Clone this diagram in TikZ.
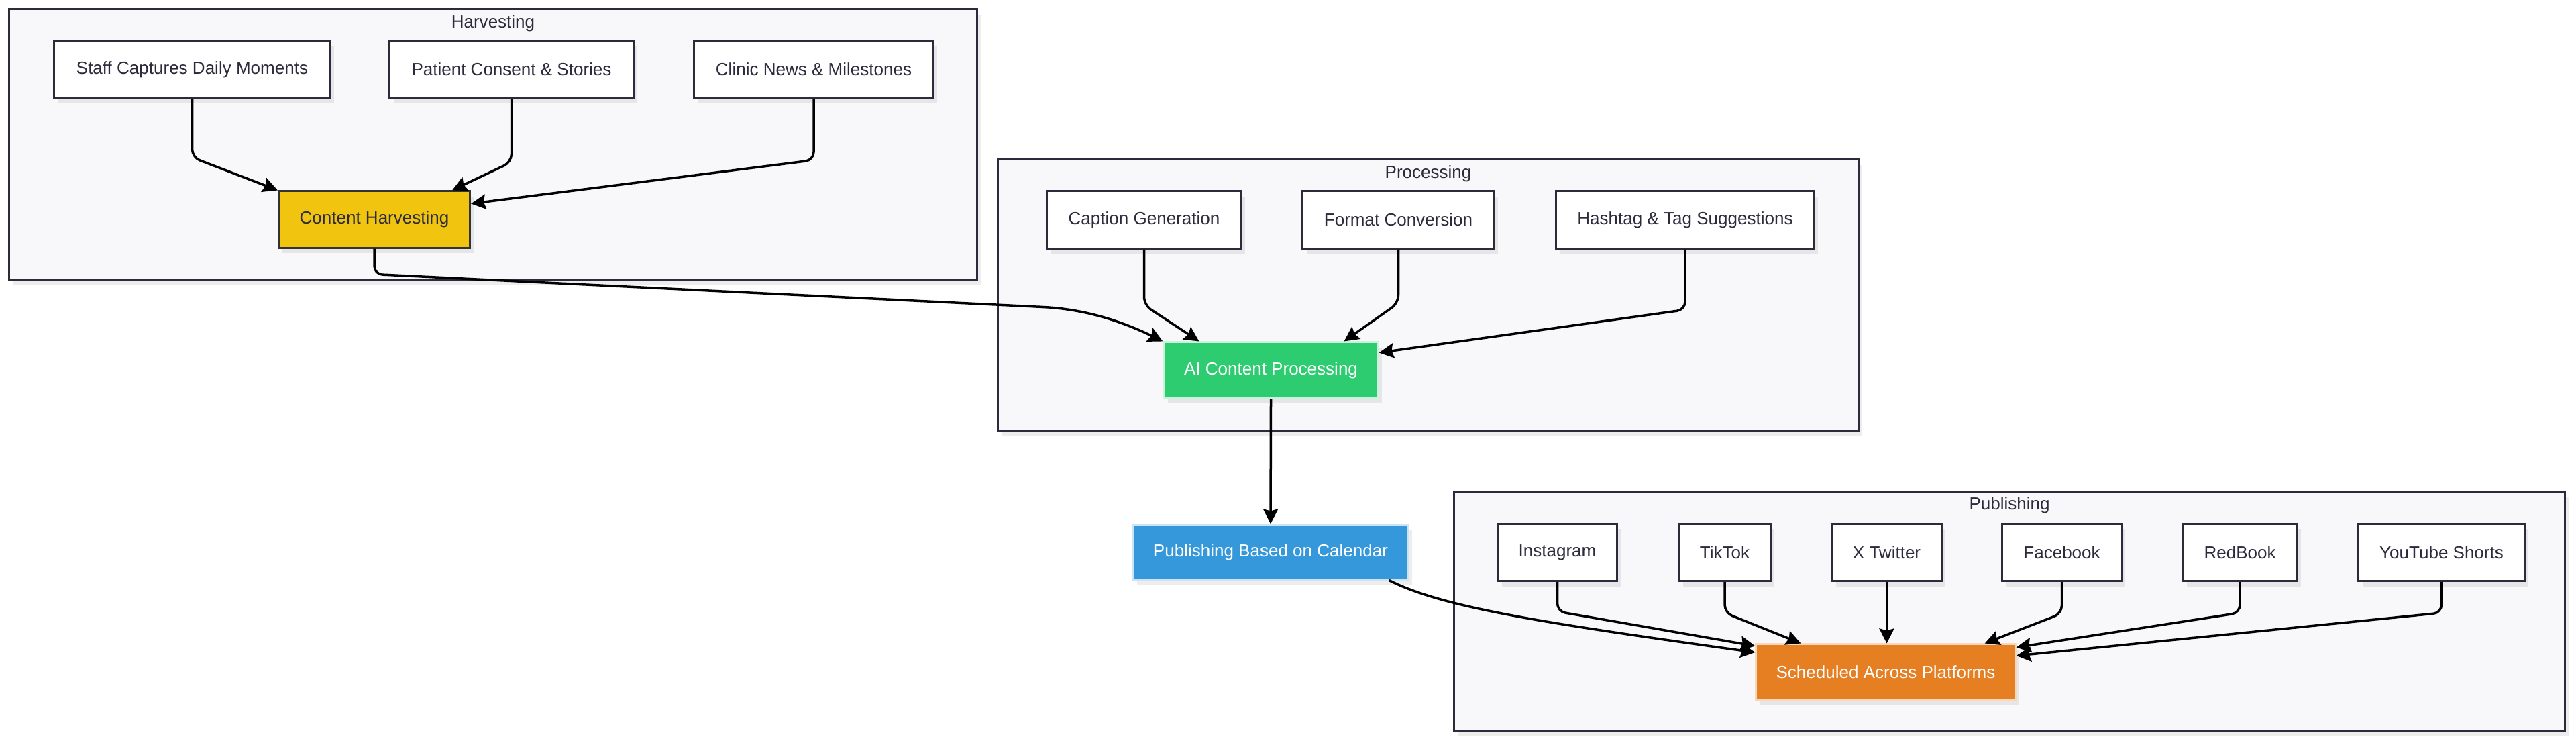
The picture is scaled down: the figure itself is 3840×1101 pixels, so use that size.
\documentclass[tikz,border=0pt]{standalone}
\usepackage{fontspec}
\setmainfont{Liberation Sans}
\usetikzlibrary{arrows.meta,calc,shadows}
\definecolor{ink}{HTML}{2B2B3C}
\definecolor{lanebg}{HTML}{F8F8FA}
\definecolor{harvyellow}{HTML}{F1C40F}
\definecolor{aigreen}{HTML}{2ECC71}
\definecolor{calblue}{HTML}{3498DB}
\definecolor{schedorange}{HTML}{E67E22}

\begin{document}
\begin{tikzpicture}[x=0.01cm, y=-0.01cm,
  font=\fontsize{7.4}{9}\selectfont,
  dropshade/.style={drop shadow={shadow xshift=0.06cm, shadow yshift=-0.08cm,
    fill=black, opacity=0.07}},
  lane/.style={draw=ink, fill=lanebg, line width=0.03cm, dropshade, inner sep=0pt},
  box/.style={draw=ink, fill=white, text=ink, line width=0.03cm, dropshade,
    inner sep=0pt, minimum height=0.85cm},
  flow/.style={line width=0.035cm, rounded corners=0.12cm,
    -{Stealth[length=0.22cm, width=0.22cm, inset=0.03cm]}}]
  \useasboundingbox (0,0) rectangle (3840,1101);

  % Groups
  \node [lane, minimum width=14.42cm, minimum height=4.02cm] (harvesting) at (735,215) {};
  \node [text=ink] (harvtitle) at (735,35) {Harvesting};
  \node [lane, minimum width=12.82cm, minimum height=4.03cm] (processing) at (2129,439.5) {};
  \node [text=ink] (proctitle) at (2129,259) {Processing};
  \node [lane, minimum width=16.55cm, minimum height=3.56cm] (publishing) at (2995.5,911) {};
  \node [text=ink] (pubtitle) at (2995.5,753) {Publishing};

  % Harvesting
  \node [box, minimum width=4.11cm] (staff) at (286.5,103.5) {Staff Captures Daily Moments};
  \node [box, minimum width=3.63cm] (patient) at (762.5,103.5) {Patient Consent \& Stories};
  \node [box, minimum width=3.56cm] (clinic) at (1213,103.5) {Clinic News \& Milestones};
  \node [box, fill=harvyellow, draw=black!80, minimum width=2.85cm, minimum height=0.84cm]
        (content) at (558,327) {Content Harvesting};

  % Processing
  \node [box, minimum width=2.89cm] (caption) at (1705.5,327.5) {Caption Generation};
  \node [box, minimum width=2.85cm] (format) at (2084.5,327.5) {Format Conversion};
  \node [box, minimum width=3.84cm] (hashtag) at (2512,327.5) {Hashtag \& Tag Suggestions};
  \node [box, fill=aigreen, draw=aigreen!25!white, text=white, minimum width=3.19cm,
        minimum height=0.83cm] (aiproc) at (1894.5,551.5) {AI Content Processing};

  % Calendar
  \node [box, fill=calblue, draw=calblue!25!white, text=white, minimum width=4.10cm,
        minimum height=0.81cm] (calendar) at (1894,822.5) {Publishing Based on Calendar};

  % Publishing
  \node [box, minimum width=1.77cm] (instagram) at (2321.5,823) {Instagram};
  \node [box, minimum width=1.36cm] (tiktok) at (2571,823) {TikTok};
  \node [box, minimum width=1.63cm] (xtwitter) at (2812.5,823) {X Twitter};
  \node [box, minimum width=1.77cm] (facebook) at (3073.5,823) {Facebook};
  \node [box, minimum width=1.70cm] (redbook) at (3339,823) {RedBook};
  \node [box, minimum width=2.47cm] (youtube) at (3639.5,823) {YouTube Shorts};
  \node [box, fill=schedorange, draw=schedorange!30!white, text=white, minimum width=3.86cm,
        minimum height=0.82cm] (sched) at (2811,1001) {Scheduled Across Platforms};

  % Harvesting edges
  \draw [flow] (staff.south) -- ++(0,87) -- (content.north west);
  \draw [flow] (patient.south) -- ++(0,94) -- ($(content.north east)+(-28,0)$);
  \draw [flow] (clinic.south) -- ++(0,91) -- ($(content.north east)+(0,20)$);

  % Into processing
  \coordinate (crossbend) at (1545,457);
  \draw [flow] (content.south) -- ++(0,38) -- (crossbend)
        .. controls (1620,461) and (1675,480) .. (aiproc.north west);
  \draw [flow] (caption.south) -- ++(0,83) -- ($(aiproc.north west)+(54,0)$);
  \draw [flow] (format.south) -- ++(0,80) -- ($(aiproc.north east)+(-52,0)$);
  \draw [flow] (hashtag.south) -- ++(0,90) -- ($(aiproc.north east)+(0,17)$);
  \draw [flow] (aiproc.south) -- (calendar.north);

  % Publishing edges
  \draw [flow] ($(calendar.south east)+(-30,0)$) .. controls (2150,905) and (2300,928)
        .. ($(sched.west)+(0,-29)$);
  \draw [flow] (instagram.south) -- ++(0,44) -- ($(sched.north west)+(0,4)$);
  \draw [flow] (tiktok.south) -- ++(0,46) -- ($(sched.north west)+(68,0)$);
  \draw [flow] (xtwitter.south) -- (xtwitter.south |- sched.north);
  \draw [flow] (facebook.south) -- ++(0,47) -- ($(sched.north east)+(-47,0)$);
  \draw [flow] (redbook.south) -- ++(0,46) -- ($(sched.north east)+(0,6)$);
  \draw [flow] (youtube.south) -- ++(0,46) -- ($(sched.east)+(0,-24)$);
\end{tikzpicture}
\end{document}
